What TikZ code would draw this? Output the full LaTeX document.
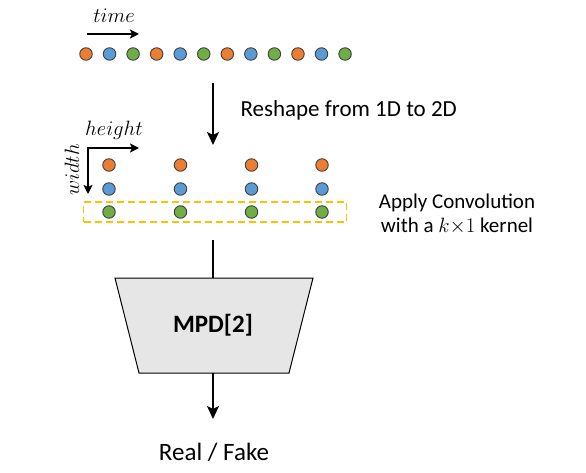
\documentclass[tikz,border=0pt]{standalone}
\usepackage{fontspec}
\setmainfont{Carlito}
\usetikzlibrary{arrows.meta}
\definecolor{dorange}{HTML}{ED7D31}
\definecolor{dblue}{HTML}{5B9BD5}
\definecolor{dgreen}{HTML}{70AD47}
\definecolor{dyellow}{HTML}{FFC000}
\definecolor{boxgray}{HTML}{E7E6E6}
\tikzset{
  dot/.style={circle,draw=black!75,line width=0.9pt,minimum size=12.5pt,inner sep=0pt},
  o/.style={dot,fill=dorange},
  b/.style={dot,fill=dblue},
  g/.style={dot,fill=dgreen},
  arr/.style={line width=2pt,-{Stealth[length=13pt,width=12pt,inset=3pt]}},
  axarr/.style={line width=2pt,-{Stealth[length=9pt,width=9pt,inset=2pt]}},
  lbl/.style={font=\fontsize{23}{26}\selectfont},
  mlbl/.style={font=\fontsize{20}{22}\selectfont,inner sep=0pt},
}
\begin{document}
\begin{tikzpicture}[x=1pt,y=-1pt]
\useasboundingbox (0,0) rectangle (586,473);
% time arrow
\coordinate (t0) at (87,34);
\coordinate (t1) at (139,34);
\draw[axarr] (t0) -- (t1);
\node[mlbl] (time) at (114,16) {$time$};
% 1D row
\foreach \i/\s in {0/o,1/b,2/g,3/o,4/b,5/g,6/o,7/b,8/g,9/o,10/b,11/g}{
  \node[\s] (r\i) at ({86+23.55*\i},54) {};
}
% reshape arrow
\coordinate (a0) at (213,83);
\coordinate (a1) at (213,145);
\draw[arr] (a0) -- (a1);
\node[lbl,anchor=west] (reshape) at (237,110) {Reshape from 1D to 2D};
% axes
\coordinate (c) at (88,148);
\coordinate (hx) at (139,148);
\coordinate (wy) at (88,194);
\draw[axarr] ([xshift=-1pt]c) -- (hx);
\draw[axarr] (c) -- (wy);
\node[mlbl] (height) at (114,130) {$height$};
\node[mlbl,rotate=90] (width) at (72,170) {$width$};
% 2D grid
\foreach \j/\x in {0/109,1/180.5,2/251.5,3/322}{
  \node[o] (p\j) at (\x,165) {};
  \node[b] (q\j) at (\x,189) {};
  \node[g] (s\j) at (\x,212) {};
}
% dashed box
\node[draw=dyellow,dashed,dash pattern=on 7pt off 4pt,line width=1.6pt,minimum width=263pt,minimum height=20pt,inner sep=0pt] (kbox) at (215,212) {};
\node[align=center,font=\fontsize{21}{24}\selectfont] (conv) at (457,214) {Apply Convolution\\with a $k{\times}1$ kernel};
% MPD trapezoid
\coordinate (m0) at (213,240);
\node[inner sep=0pt,minimum width=150pt,minimum height=95pt] (mpd) at (213,325.5) {};
\draw[fill=boxgray,line width=1pt] (115,278) -- (313,278) -- (289,373) -- (139,373) -- cycle;
\node[font=\fontsize{25}{28}\selectfont\bfseries] at (mpd.center) {MPD[2]};
\draw[line width=2pt] (m0) -- (mpd.north);
\coordinate (e1) at (213,419);
\draw[arr] (mpd.south) -- (e1);
\node[font=\fontsize{25}{28}\selectfont] (out) at (214,452) {Real / Fake};
\end{tikzpicture}
\end{document}
